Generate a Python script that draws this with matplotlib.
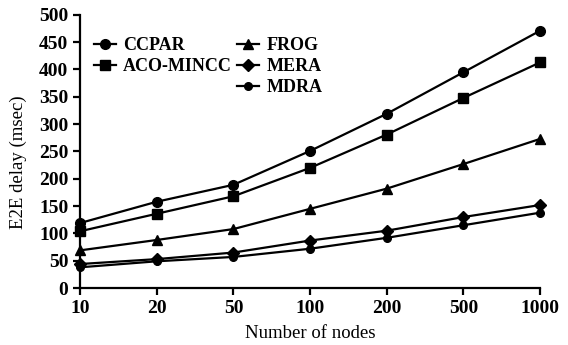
import matplotlib
matplotlib.use("Agg")
import matplotlib.pyplot as plt
from matplotlib.lines import Line2D

nodes = ["10", "20", "50", "100", "200", "500", "1000"]
ccpar = [119, 158, 189, 251, 319, 395, 471]
aco_mincc = [104, 136, 168, 220, 281, 348, 413]
frog = [69, 88, 108, 145, 182, 227, 273]
mera = [44, 53, 65, 87, 105, 130, 152]
mdra = [38, 49, 57, 72, 92, 115, 138]

plt.rcParams['font.family'] = ['Liberation Serif', 'DejaVu Serif']

fig = plt.figure(figsize=(5.68, 3.45), dpi=100)
ax = fig.add_axes([0.141, 0.165, 0.81, 0.792])

x = list(range(len(nodes)))
lw = 1.6
h1, = ax.plot(x, ccpar, color='black', lw=lw, marker='o', ms=7, label='CCPAR', clip_on=False)
h2, = ax.plot(x, aco_mincc, color='black', lw=lw, marker='s', ms=6.5, label='ACO-MINCC', clip_on=False)
h3, = ax.plot(x, frog, color='black', lw=lw, marker='^', ms=7.5, label='FROG', clip_on=False)
h4, = ax.plot(x, mera, color='black', lw=lw, marker='D', ms=6, label='MERA', clip_on=False)
h5, = ax.plot(x, mdra, color='black', lw=lw, marker='o', ms=5.5, label='MDRA', clip_on=False)

blank = Line2D([], [], color='none', marker=None, label=' ')
ax.legend([h1, h2, blank, h3, h4, h5],
          ['CCPAR', 'ACO-MINCC', '', 'FROG', 'MERA', 'MDRA'],
          ncol=2, loc='upper left', bbox_to_anchor=(0.003, 0.965), frameon=False,
          prop={'size': 13, 'weight': 'bold'}, handlelength=1.2, handletextpad=0.4,
          columnspacing=0.3, labelspacing=0.22, borderaxespad=0.3)

ax.set_xlim(0, len(nodes) - 1)
ax.set_ylim(0, 500)
ax.set_xticks(x)
ax.set_xticklabels(nodes)
ax.set_yticks(range(0, 501, 50))

for s in ['top', 'right']:
    ax.spines[s].set_visible(False)
for s in ['left', 'bottom']:
    ax.spines[s].set_linewidth(1.6)

ax.tick_params(axis='both', direction='out', length=5, width=1.6, labelsize=14)
for lab in ax.get_xticklabels() + ax.get_yticklabels():
    lab.set_fontweight('bold')

ax.set_xlabel('Number of nodes', fontsize=13.5, fontweight='normal', labelpad=6)
ax.set_ylabel('E2E delay (msec)', fontsize=13.5, fontweight='normal', labelpad=6)
ax.yaxis.set_label_coords(-0.115, 0.46)

fig.savefig('out.png', dpi=100)
